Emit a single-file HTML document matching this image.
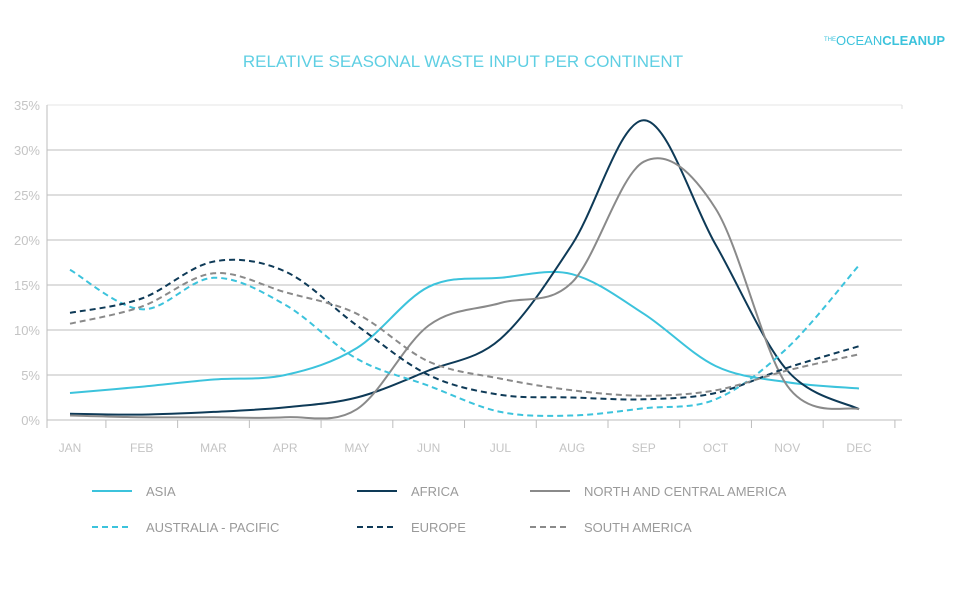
<!DOCTYPE html>
<html><head><meta charset="utf-8"><style>
body{margin:0;background:#fff;}
svg text{font-family:"Liberation Sans",sans-serif;}
</style></head><body>
<svg id="chart" width="960" height="584" xmlns="http://www.w3.org/2000/svg">
<rect width="960" height="584" fill="#fff"/>
<text x="463" y="67" text-anchor="middle" font-size="17" fill="#5fcfe3">RELATIVE SEASONAL WASTE INPUT PER CONTINENT</text>
<text x="824" y="45" font-size="13" fill="#3cc3dc"><tspan font-size="6" dy="-4">THE</tspan><tspan dy="4">OCEAN</tspan><tspan font-weight="bold">CLEANUP</tspan></text>
<g id="grid"></g><g id="series"></g><g id="legend"></g>
</svg>
<script>
const months=["JAN","FEB","MAR","APR","MAY","JUN","JUL","AUG","SEP","OCT","NOV","DEC"];
const yTicks=[0,5,10,15,20,25,30,35];
const asia=[3.0,3.7,4.5,5.0,8.0,14.8,15.8,16.2,11.8,6.0,4.2,3.5];
const africa=[0.7,0.6,0.9,1.4,2.5,5.5,9.0,19.5,33.3,19.5,5.5,1.2];
const northAmerica=[0.5,0.3,0.3,0.3,1.2,10.5,13.0,15.3,28.7,23.5,3.8,1.2];
const australia=[16.7,12.3,15.8,12.8,6.8,3.8,0.9,0.5,1.3,2.3,8.0,17.2];
const europe=[11.9,13.5,17.6,16.5,10.5,5.0,2.8,2.5,2.3,3.0,5.8,8.2];
const southAmerica=[10.7,12.6,16.3,14.2,11.8,6.5,4.6,3.3,2.7,3.3,5.5,7.3];
const NS="http://www.w3.org/2000/svg";
const L=47,R=902,Y0=420,Y35=105;
const x=i=>70+i*(859-70)/11;
const y=v=>Y0-(v/35)*(Y0-Y35);
function mk(t,a,p){const e=document.createElementNS(NS,t);for(const k in a)e.setAttribute(k,a[k]);p.appendChild(e);return e;}
const grid=document.getElementById('grid');
yTicks.forEach(t=>{
 const l=mk('line',{x1:L,x2:R,y1:y(t),y2:y(t),stroke:t==35?'#e6e6e6':'#bdbdbd','stroke-width':1},grid);
 
 
 const tx=mk('text',{x:40,y:y(t)+5,'text-anchor':'end','font-size':13,fill:'#c4c4c4'},grid);
 tx.textContent=t+'%';
 
 
});
const ax=mk('line',{x1:L,x2:L,y1:Y35,y2:Y0+8,stroke:'#bdbdbd'},grid);


mk('line',{x1:R,x2:R,y1:Y35,y2:Y35+4,stroke:'#ddd'},grid);
months.forEach((m,i)=>{
 const tk=mk('line',{x1:x(i)+35.9,x2:x(i)+35.9,y1:Y0,y2:Y0+8,stroke:'#bdbdbd'},grid);
 
 
 const tx=mk('text',{x:x(i),y:452,'text-anchor':'middle','font-size':12,fill:'#c4c4c4'},grid);
 tx.textContent=m;
 
 
});
function path(vals){
 const p=vals.map((v,i)=>[x(i),y(v)]);let d='M'+p[0][0]+','+p[0][1];
 for(let i=0;i<p.length-1;i++){const p0=p[i-1]||p[i],p1=p[i],p2=p[i+1],p3=p[i+2]||p2;
  const c1=[p1[0]+(p2[0]-p0[0])/6,p1[1]+(p2[1]-p0[1])/6],c2=[p2[0]-(p3[0]-p1[0])/6,p2[1]-(p3[1]-p1[1])/6];
  d+=`C${c1[0]},${c1[1]} ${c2[0]},${c2[1]} ${p2[0]},${p2[1]}`;}
 return d;}
const series=[
 {n:'ASIA',v:asia,c:'#3cc3dc',d:'',lx:92,ly:491,id:'asia'},
 {n:'AFRICA',v:africa,c:'#0e3a57',d:'',lx:357,ly:491,id:'africa'},
 {n:'NORTH AND CENTRAL AMERICA',v:northAmerica,c:'#8a8a8a',d:'',lx:530,ly:491,id:'north-central-america'},
 {n:'AUSTRALIA - PACIFIC',v:australia,c:'#3cc3dc',d:'6,4',lx:92,ly:527,id:'australia-pacific'},
 {n:'EUROPE',v:europe,c:'#0e3a57',d:'6,4',lx:357,ly:527,id:'europe'},
 {n:'SOUTH AMERICA',v:southAmerica,c:'#8a8a8a',d:'6,4',lx:530,ly:527,id:'south-america'}];
const sg=document.getElementById('series'),lg=document.getElementById('legend');
series.forEach(s=>{
 const p=mk('path',{d:path(s.v),fill:'none',stroke:s.c,'stroke-width':2,'stroke-dasharray':s.d},sg);
 
 
 const g=mk('g',{},lg);
 
 
 mk('line',{x1:s.lx,x2:s.lx+40,y1:s.ly,y2:s.ly,stroke:s.c,'stroke-width':2,'stroke-dasharray':s.d},g);
 const t=mk('text',{x:s.lx+54,y:s.ly+5,'font-size':13,fill:'#9a9a9a'},g);t.textContent=s.n;
});
</script>
</body></html>
